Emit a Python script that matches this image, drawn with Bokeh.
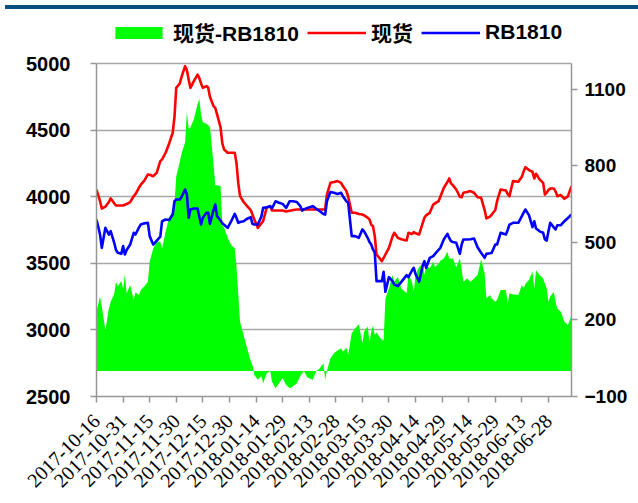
import pandas as pd
from math import pi
from bokeh.plotting import figure
from bokeh.layouts import column
from bokeh.models import (Range1d, LinearAxis, FixedTicker, Legend, LegendItem,
                          ColumnDataSource, Div)
from bokeh.embed import file_html
from bokeh.resources import INLINE

# ---------------- data ----------------
start_date = "2017-10-16"
day_index = [0, 2, 3, 5, 7, 8, 10, 11, 12, 14,
             15, 16, 17, 19, 21, 22, 24, 25, 27, 29,
             30, 32, 34, 36, 37, 39, 41, 43, 44, 45,
             47, 48, 50, 51, 52, 53, 55, 57, 58, 59,
             60, 62, 63, 64, 66, 67, 68, 70, 71, 72,
             74, 76, 78, 79, 80, 81, 83, 85, 87, 88,
             89, 91, 93, 94, 96, 98, 99, 101, 103, 105,
             107, 109, 111, 113, 115, 116, 117, 119, 122, 124,
             126, 128, 129, 130, 132, 134, 136, 138, 139, 141,
             142, 144, 146, 148, 150, 151, 153, 154, 155, 156,
             157, 158, 161, 162, 163, 165, 167, 168, 170, 172,
             175, 176, 178, 179, 180, 182, 184, 185, 186, 188,
             190, 191, 193, 194, 196, 198, 199, 200, 201, 203,
             205, 206, 207, 209, 211, 213, 215, 217, 219, 220,
             222, 223, 225, 226, 228, 231, 232, 233, 235, 238,
             240, 241, 242, 244, 246, 247, 248, 250, 252, 253,
             254, 255, 256, 258, 259, 260, 262, 264, 266, 268]

spot = [4054, 3966, 3911, 3925, 3960, 3987, 3950, 3934, 3934, 3934,
        3934, 3940, 3945, 3960, 4004, 4020, 4069, 4090, 4120, 4167,
        4165, 4154, 4180, 4267, 4280, 4330, 4400, 4480, 4600, 4817,
        4850, 4900, 4980, 4950, 4880, 4817, 4870, 4917, 4890, 4850,
        4817, 4830, 4820, 4750, 4680, 4667, 4620, 4520, 4400, 4354,
        4330, 4330, 4330, 4250, 4100, 4004, 3960, 3929, 3900, 3866,
        3830, 3766, 3800, 3816, 3916, 3929, 3896, 3896, 3896, 3896,
        3889, 3895, 3900, 3904, 3904, 3904, 3904, 3904, 3904, 3904,
        3904, 3904, 3904, 4016, 4104, 4110, 4117, 4104, 4080, 4042,
        4000, 3879, 3879, 3870, 3866, 3860, 3842, 3830, 3790, 3779,
        3704, 3566, 3516, 3540, 3566, 3616, 3700, 3729, 3691, 3680,
        3671, 3729, 3720, 3734, 3725, 3716, 3800, 3842, 3860, 3879,
        3941, 3950, 3966, 4000, 4067, 4110, 4137, 4100, 4087, 4054,
        4000, 3996, 4029, 4035, 4042, 4030, 3996, 3992, 3900, 3837,
        3850, 3866, 3900, 3966, 4054, 4046, 4020, 4004, 4117, 4112,
        4150, 4190, 4222, 4200, 4187, 4137, 4172, 4130, 4104, 4016,
        4030, 4050, 4062, 4062, 4040, 4004, 4012, 3984, 4004, 4079]

rb1810 = [3829, 3716, 3616, 3766, 3716, 3741, 3654, 3600, 3579, 3571,
          3629, 3566, 3600, 3641, 3729, 3716, 3770, 3791, 3800, 3804,
          3704, 3641, 3670, 3700, 3816, 3829, 3825, 3866, 3966, 3979,
          3979, 4000, 4054, 4017, 3842, 3904, 3911, 3911, 3850, 3791,
          3842, 3879, 3880, 3796, 3900, 3941, 3854, 3821, 3800, 3790,
          3766, 3816, 3871, 3840, 3804, 3810, 3816, 3835, 3846, 3796,
          3791, 3791, 3850, 3916, 3920, 3929, 3911, 3966, 3955, 3946,
          3916, 3966, 3966, 3960, 3929, 3896, 3905, 3916, 3929, 3910,
          3891, 3870, 3866, 3966, 4036, 4029, 4021, 4029, 4004, 3966,
          3954, 3704, 3704, 3691, 3754, 3740, 3691, 3660, 3641, 3604,
          3580, 3366, 3366, 3436, 3286, 3396, 3366, 3340, 3329, 3361,
          3411, 3396, 3446, 3466, 3420, 3361, 3480, 3516, 3466, 3540,
          3554, 3571, 3600, 3616, 3680, 3721, 3690, 3666, 3660, 3654,
          3571, 3640, 3679, 3679, 3680, 3686, 3621, 3579, 3541, 3571,
          3575, 3579, 3641, 3641, 3729, 3716, 3750, 3790, 3804, 3804,
          3854, 3880, 3904, 3862, 3771, 3816, 3761, 3740, 3729, 3679,
          3671, 3740, 3804, 3770, 3754, 3786, 3786, 3816, 3840, 3866]

spread = [231, 290, 250, 160, 244, 270, 300, 348, 330, 351,
          320, 374, 303, 335, 277, 307, 296, 316, 330, 348,
          426, 478, 504, 504, 478, 543, 600, 621, 650, 760,
          815, 850, 893, 1010, 945, 950, 984, 1040, 1062, 1000,
          971, 965, 960, 952, 809, 725, 725, 722, 569, 560,
          520, 491, 478, 406, 300, 192, 140, 88, 40, 23,
          -16, -35, -20, -48, -10, 0, -42, -68, -48, -29,
          -55, -68, -60, -48, -20, -10, 0, -26, -35, 0,
          10, 30, -35, 0, 49, 69, 80, 88, 75, 91,
          62, 147, 166, 182, 108, 153, 173, 114, 153, 177,
          140, 150, 121, 121, 283, 322, 374, 348, 367, 322,
          303, 374, 348, 309, 374, 406, 419, 374, 413, 400,
          426, 406, 419, 430, 439, 465, 439, 439, 439, 406,
          439, 400, 348, 361, 348, 361, 374, 436, 380, 283,
          296, 283, 270, 277, 316, 316, 264, 303, 299, 296,
          335, 322, 340, 355, 387, 322, 393, 374, 361, 340,
          322, 270, 290, 309, 270, 244, 231, 192, 179, 218]

tick_labels = ["2017-10-16", "2017-10-31", "2017-11-15", "2017-11-30",
               "2017-12-15", "2017-12-30", "2018-01-14", "2018-01-29",
               "2018-02-13", "2018-02-28", "2018-03-15", "2018-03-30",
               "2018-04-14", "2018-04-29", "2018-05-14", "2018-05-29",
               "2018-06-13", "2018-06-28"]
left_ticks = [2500, 3000, 3500, 4000, 4500, 5000]
right_ticks = [-100, 200, 500, 800, 1100]
left_bounds = (2500, 5000)
right_bounds = (-100, 1200)
series_names = ["现货-RB1810", "现货", "RB1810"]

# ---------------- build ----------------
dates = pd.to_datetime(start_date) + pd.to_timedelta(day_index, unit="D")
src = ColumnDataSource(dict(date=dates, spot=spot, rb=rb1810, spread=spread))

x_start = pd.Timestamp(start_date)
x_end = x_start + pd.Timedelta(days=268)

LATIN = "Liberation Sans"
GRID = "#a6a6a6"
AX = "#969696"

# plotted value area is 333 px tall; frame gets 49 px extra headroom for the legend
AXIS_PX, HEAD_PX = 333, 49
left_top = left_bounds[1] + HEAD_PX * (left_bounds[1] - left_bounds[0]) / AXIS_PX
right_top = right_bounds[1] + HEAD_PX * (right_bounds[1] - right_bounds[0]) / AXIS_PX

p = figure(frame_width=475, frame_height=AXIS_PX + HEAD_PX, x_axis_type="datetime",
           x_range=Range1d(x_start, x_end), y_range=Range1d(left_bounds[0], left_top),
           output_backend="svg", toolbar_location=None,
           min_border_left=96, min_border_top=5, min_border_right=40, min_border_bottom=60)
p.extra_y_ranges = {"right": Range1d(right_bounds[0], right_top)}
p.outline_line_color = None
p.background_fill_color = "white"
p.border_fill_color = "white"

area = p.varea(x="date", y1=0, y2="spread", source=src, y_range_name="right",
               fill_color="#00ff00")
r_spot = p.line(x="date", y="spot", source=src, line_color="#ff0000", line_width=2.6,
                line_join="round")
r_rb = p.line(x="date", y="rb", source=src, line_color="#0000ff", line_width=2.6,
              line_join="round")

# grid
p.xgrid.visible = False
p.ygrid.ticker = FixedTicker(ticks=left_ticks)
p.ygrid.grid_line_color = GRID
p.ygrid.grid_line_width = 1.5

# left axis
ya = p.yaxis[0]
ya.ticker = FixedTicker(ticks=left_ticks)
ya.bounds = left_bounds
ya.minor_tick_line_color = None
ya.major_tick_in = 0
ya.major_tick_out = 6
ya.major_tick_line_color = AX
ya.major_tick_line_width = 1.5
ya.axis_line_color = AX
ya.axis_line_width = 1.5
ya.major_label_text_font = LATIN
ya.major_label_text_font_style = "bold"
ya.major_label_text_font_size = "20px"
ya.major_label_text_color = "black"
ya.major_label_standoff = 20

# right axis
ra = LinearAxis(y_range_name="right", ticker=FixedTicker(ticks=right_ticks))
ra.bounds = right_bounds
ra.minor_tick_line_color = None
ra.major_tick_in = 0
ra.major_tick_out = 6
ra.major_tick_line_color = AX
ra.major_tick_line_width = 1.5
ra.axis_line_color = AX
ra.axis_line_width = 1.5
ra.major_label_text_font = LATIN
ra.major_label_text_font_style = "bold"
ra.major_label_text_font_size = "19px"
ra.major_label_text_color = "black"
ra.major_label_standoff = 7
p.add_layout(ra, "right")

# x axis
tick_ms = [pd.Timestamp(t).value // 10**6 for t in tick_labels]
xa = p.xaxis[0]
xa.ticker = FixedTicker(ticks=tick_ms)
xa.major_label_overrides = {ms: lab for ms, lab in zip(tick_ms, tick_labels)}
xa.minor_tick_line_color = None
xa.major_tick_in = 0
xa.major_tick_out = 6
xa.major_tick_line_color = AX
xa.major_tick_line_width = 1.5
xa.axis_line_color = AX
xa.axis_line_width = 1.5
xa.major_label_orientation = pi / 4
xa.major_label_text_font = "Liberation Serif"
xa.major_label_text_font_size = "20px"
xa.major_label_text_color = "black"
xa.major_label_standoff = 15

# legend (in the headroom above the 5000 grid line)
legend = Legend(items=[LegendItem(label=series_names[0], renderers=[area]),
                       LegendItem(label=series_names[1], renderers=[r_spot]),
                       LegendItem(label=series_names[2], renderers=[r_rb])],
                orientation="horizontal", location=(13, 349),
                glyph_width=59, glyph_height=15, label_standoff=5, spacing=8,
                padding=0, margin=0, border_line_color=None, background_fill_alpha=0,
                label_text_font=LATIN + ", Noto Sans CJK SC",
                label_text_font_style="bold", label_text_font_size="21px",
                label_text_color="black")
p.add_layout(legend, "center")

# dark band at the very top of the page
band = Div(text="", width=633, height=4, margin=(5, 0, 0, 5),
           styles={"background-color": "#0b4f80"})

layout = column(band, p, spacing=0)
open("out.html", "w").write(file_html(layout, INLINE))
